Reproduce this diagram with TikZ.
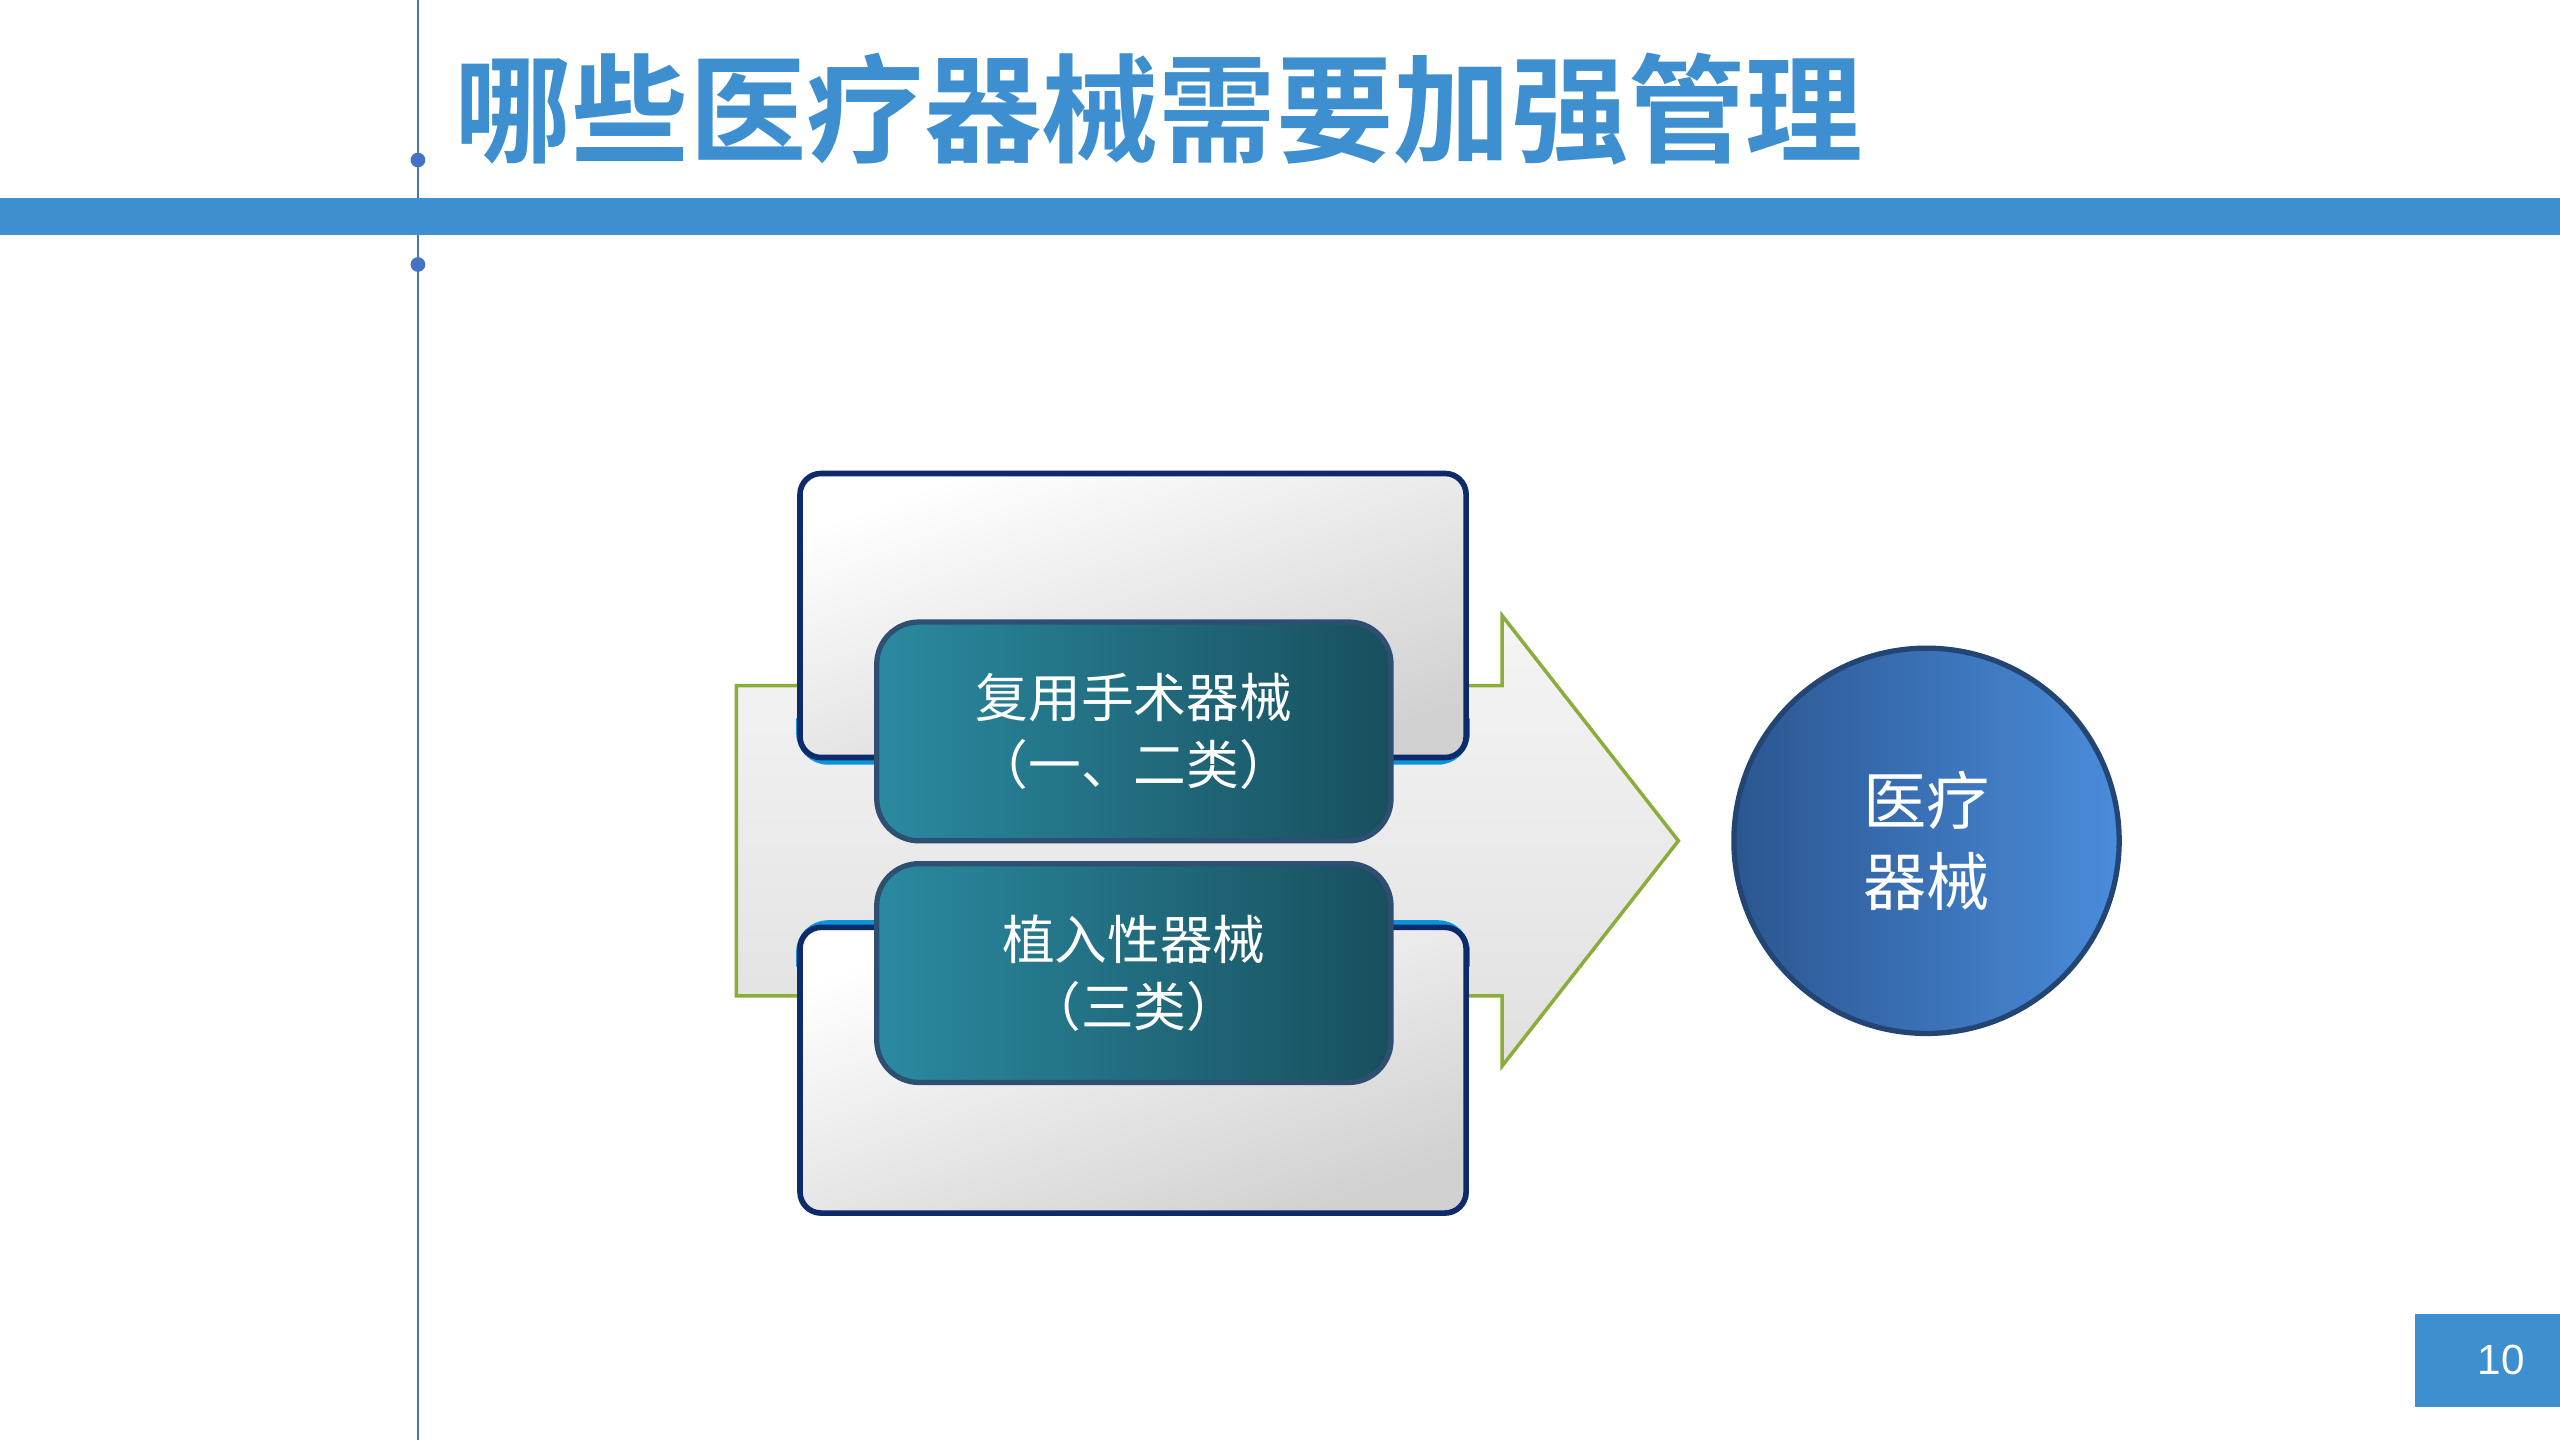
\documentclass[tikz,border=0pt]{standalone}
\usepackage{fontspec}
\newfontfamily\cjk{Noto Sans CJK SC}
\newfontfamily\cjkb{Noto Sans CJK SC Bold}
\setmainfont{Liberation Sans}
\definecolor{tblue}{HTML}{3E8FD0}
\definecolor{lineblue}{HTML}{4472C4}
\definecolor{navy}{HTML}{0D2A6B}
\definecolor{teala}{HTML}{2A8AA0}
\definecolor{tealb}{HTML}{184F5E}
\definecolor{tealedge}{HTML}{2F4F72}
\definecolor{cira}{HTML}{2B5690}
\definecolor{cirb}{HTML}{4A8CDB}
\definecolor{agreen}{HTML}{8AAE3A}
\tikzset{
 wbox/.style={draw=navy,line width=1.6pt,rounded corners=6pt,top color=white,bottom color=black!18,shading angle=20},
 tbox/.style={draw=tealedge,line width=1.5pt,rounded corners=12pt,left color=teala,right color=tealb},
 ttext/.style={text=white,font=\cjk\fontsize{15}{19}\selectfont,align=center}
}
\begin{document}
\begin{tikzpicture}[x=0.16327mm,y=-0.16327mm]
\useasboundingbox (0,0) rectangle (1568,882);
\fill[white] (0,0) rectangle (1568,882);
\draw[lineblue,line width=0.6pt] (256,0) -- (256,882);
\fill[lineblue] (256,98) circle (4.5);
\fill[lineblue] (256,162) circle (4.5);
\node[anchor=west,text=tblue,font=\cjkb\fontsize{33.4}{36}\selectfont,inner sep=0] (title) at (278,67) {哪些医疗器械需要加强管理};
\fill[tblue] (0,121) rectangle (1568,144);
% arrow
\draw[agreen,line width=1pt,top color=black!4,bottom color=black!12] (451,420) -- (920,420) -- (920,377) -- (1028,515) -- (920,653) -- (920,610) -- (451,610) -- cycle;
% white boxes
\draw[cyan!80!blue,line width=2.2pt,rounded corners=8pt] (490,440) -- (490,466) -- (898,466) -- (898,440);
\draw[wbox] (490,290) rectangle (898,464);
\draw[cyan!80!blue,line width=2.2pt,rounded corners=8pt] (490,592) -- (490,566) -- (898,566) -- (898,592);
\draw[wbox] (490,568) rectangle (898,743);
% teal
\node[tbox,minimum width=315*0.16327mm,minimum height=134*0.16327mm] (a) at (694.5,448) {};
\node[ttext] (at) at (694.5,448) {复用手术器械\\（一、二类）};
\node[tbox,minimum width=315*0.16327mm,minimum height=134*0.16327mm] (b) at (694.5,596) {};
\node[ttext] (bt) at (694.5,596) {植入性器械\\（三类）};
% circle
\node[circle,draw=cira!80!black,line width=1.5pt,left color=cira,right color=cirb,minimum size=236*0.16327mm] (c) at (1180,515) {};
\node[text=white,font=\cjk\fontsize{18}{23}\selectfont,align=center] (ct) at (1180,515) {医疗\\器械};
% page no
\fill[tblue] (1479,805) rectangle (1568,862);
\node[text=white,font=\fontsize{12}{14}\selectfont] (pn) at (1532,833) {10};
\end{tikzpicture}
\end{document}
